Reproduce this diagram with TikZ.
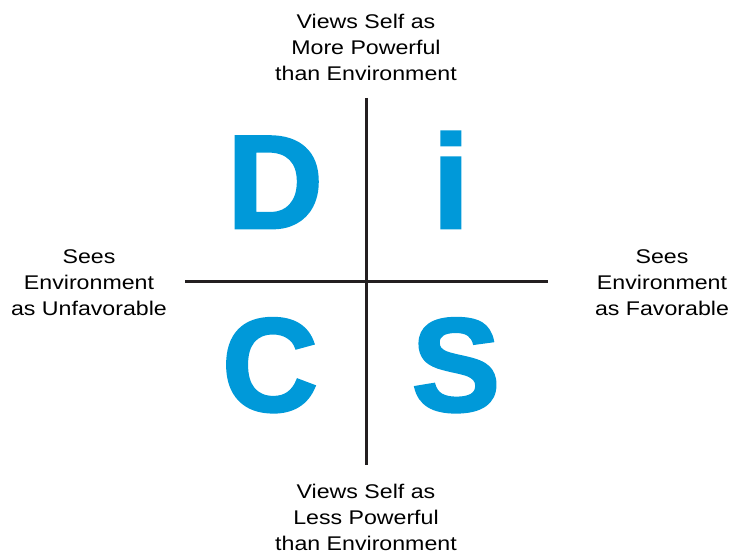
\documentclass[tikz,border=0pt]{standalone}
\usepackage{fontspec}
\setmainfont{Liberation Sans}
\newfontfamily\labelfont[FakeStretch=1.17]{Liberation Sans}
\newfontfamily\discfont[FakeBold=2]{Liberation Sans Bold}
\definecolor{discblue}{RGB}{0,153,217}
\definecolor{axisgray}{RGB}{35,31,32}
\begin{document}
\begin{tikzpicture}[x=1pt,y=-1pt]
\tikzset{label style/.style={align=center, inner sep=0pt, font=\labelfont\fontsize{19.8}{26}\selectfont, text=black},
         letter style/.style={anchor=base, inner sep=0pt, text=discblue, font=\discfont\fontsize{133}{133}\selectfont}}
\useasboundingbox (0,0) rectangle (729,553);

\node[label style] at (366, 47)   (more)   {Views Self as\\More Powerful\\than Environment};
\node[label style] at (366, 517)  (less)   {Views Self as\\Less Powerful\\than Environment};
\node[label style] at (89, 283)   (unfav)  {Sees\\Environment\\as Unfavorable};
\node[label style] at (662, 283)  (fav)    {Sees\\Environment\\as Favorable};

\node[letter style] at (275, 228) (D)      {D};
\node[letter style] at (451, 228) (i)      {i};
\node[letter style] at (270, 411) (C)      {C};
\node[letter style] at (456, 411) (S)      {S};

\coordinate (top)    at (366, 98);
\coordinate (bottom) at (366, 465);
\coordinate (left)   at (185, 282);
\coordinate (right)  at (548, 282);

\draw[line width=3pt, axisgray]
            (top)   -- (bottom)
            (left)  -- (right)
;
\end{tikzpicture}
\end{document}
